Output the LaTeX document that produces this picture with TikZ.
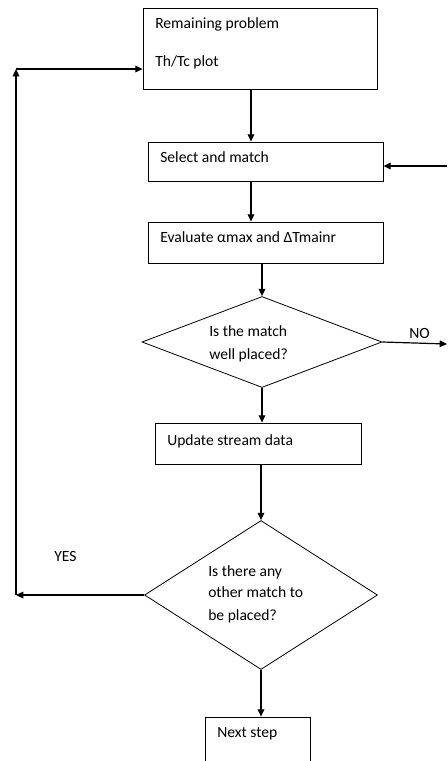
\documentclass[tikz,border=0pt]{standalone}
\usepackage{fontspec}
\setmainfont{Carlito}
\usetikzlibrary{shapes.geometric,arrows.meta}
\begin{document}
\begin{tikzpicture}[x=0.75pt,y=-0.75pt,
  every node/.style={font=\fontsize{11.7}{14}\selectfont},
  box/.style={draw,line width=0.6pt,rectangle,inner sep=0pt},
  dia/.style={draw,line width=0.6pt,diamond,inner sep=0pt},
  txt/.style={anchor=base west,inner sep=0pt},
  arr/.style={line width=0.9pt,-{Triangle[length=5.5pt,width=5pt]}}]
\useasboundingbox (0,0) rectangle (447,761);
\clip (0,0) rectangle (447,761);
% boxes
\node[box,minimum width=175.5pt,minimum height=60.75pt] (b1) at (260,48.5) {};
\node[box,minimum width=176.25pt,minimum height=29.25pt] (b2) at (265.5,161.5) {};
\node[box,minimum width=176.25pt,minimum height=30.75pt] (b3) at (265.5,242.5) {};
\node[dia,minimum width=180pt,minimum height=68.25pt] (d1) at (262,342) {};
\node[box,minimum width=154.5pt,minimum height=30.75pt] (b4) at (258,443.5) {};
\node[dia,minimum width=174.75pt,minimum height=111.75pt] (d2) at (261,595) {};
\node[box,minimum width=78.75pt,minimum height=54pt] (b5) at (257.5,753) {};
% texts
\node[txt] (t1a) at (155,28.5) {Remaining problem};
\node[txt] (t1b) at (155,66.5) {Th/Tc plot};
\node[txt] (t2) at (160,162.5) {Select and match};
\node[txt] (t3) at (160,242.5) {Evaluate αmax and ΔTmainr};
\node[txt] (t4a) at (209,336.5) {Is the match};
\node[txt] (t4b) at (209,359.5) {well placed?};
\node[txt] (tno) at (409,338.5) {NO};
\node[txt] (t5) at (167,445.5) {Update stream data};
\node[txt] (t6a) at (208,576.5) {Is there any};
\node[txt] (t6b) at (208,597.5) {other match to};
\node[txt] (t6c) at (208,620.5) {be placed?};
\node[txt] (tyes) at (54,561.5) {YES};
\node[txt] (t7) at (217,737.5) {Next step};
% free ends
\coordinate (noend) at (447,344);
\coordinate (rin) at (447,166);
\coordinate (lt) at (16,69);
% connectors
\draw[arr] ([xshift=-6.75pt]b1.south) -- ([xshift=-10.875pt]b2.north);
\draw[arr] ([xshift=-10.875pt]b2.south) -- ([xshift=-10.875pt]b3.north);
\draw[arr] (b3.south -| d1.north) -- (d1.north);
\draw[arr] (d1.south) -- (b4.north -| d1.south);
\draw[arr] (b4.south -| d2.north) -- (d2.north);
\draw[arr] (d2.south) -- (b5.north -| d2.south);
\draw[arr] (d1.east) -- (noend);
\draw[arr] (rin) -- (b2.east |- rin);
\draw[arr] (d2.west) -- (d2.west -| lt);
\draw[arr] (d2.west -| lt) -- (lt);
\draw[arr] (lt) -- (b1.west |- lt);
\end{tikzpicture}
\end{document}
